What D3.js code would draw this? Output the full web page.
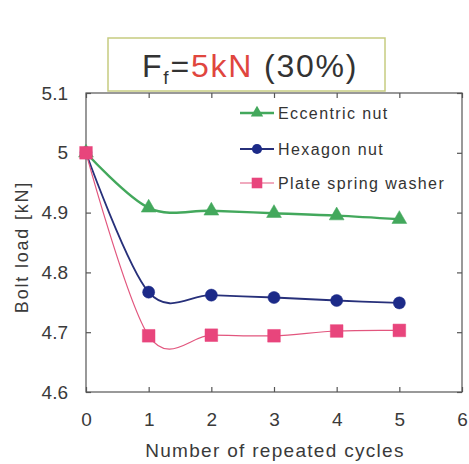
<!DOCTYPE html>
<html>
<head>
<meta charset="utf-8">
<script src="https://cdn.jsdelivr.net/npm/d3@7"></script>
<style>
  body { margin: 0; background: #fff; }
  svg { display: block; font-family: "Liberation Sans", Arial, sans-serif; }
</style>
</head>
<body>
<div id="chart"></div>
<script>
const cycles = [0, 1, 2, 3, 4, 5];
const eccentricNut = [5.0, 4.908, 4.903, 4.899, 4.895, 4.889];
const hexagonNut = [5.0, 4.767, 4.762, 4.758, 4.753, 4.749];
const plateSpringWasher = [5.0, 4.694, 4.695, 4.694, 4.702, 4.703];
const seriesNames = ["Eccentric nut", "Hexagon nut", "Plate spring washer"];
const xTicks = [0, 1, 2, 3, 4, 5, 6];
const yTicks = [4.6, 4.7, 4.8, 4.9, 5.0, 5.1];

const width = 469, height = 464;
const margin = { top: 93, right: 7, bottom: 72, left: 86 };

const svg = d3.select("#chart").append("svg")
  .attr("width", width)
  .attr("height", height);

const x = d3.scaleLinear().domain([0, 6]).range([margin.left, width - margin.right]);
const y = d3.scaleLinear().domain([4.6, 5.1]).range([height - margin.bottom, margin.top]);

// title box
const title = svg.append("g");
title.append("rect")
  .attr("x", 108).attr("y", 38)
  .attr("width", 277).attr("height", 53)
  .attr("fill", "#fff")
  .attr("stroke", "#c6cc80")
  .attr("stroke-width", 1.5);
const tt = title.append("text")
  .attr("x", 142).attr("y", 77)
  .style("font-size", "32px")
  .style("letter-spacing", "1.8px")
  .attr("fill", "#333");
tt.append("tspan").text("F");
tt.append("tspan").attr("dy", 7).style("font-size", "19px").text("f");
tt.append("tspan").attr("dy", -7).text("=");
tt.append("tspan").attr("fill", "#e0463e").text("5kN");
tt.append("tspan").text(" (30%)");

// frame
svg.append("rect")
  .attr("x", x(0)).attr("y", y(5.1))
  .attr("width", x(6) - x(0)).attr("height", y(4.6) - y(5.1))
  .attr("fill", "none")
  .attr("stroke", "#555")
  .attr("stroke-width", 1.2);

function styleAxis(g) {
  g.select(".domain").remove();
  g.selectAll(".tick line").attr("stroke", "#555").attr("stroke-width", 1.2);
  g.selectAll(".tick text")
    .attr("fill", "#3a3a3a")
    .style("font-size", "19px")
    .style("font-family", "'Liberation Sans', Arial, sans-serif");
}

svg.append("g")
  .attr("transform", `translate(0,${y(4.6)})`)
  .call(d3.axisBottom(x).tickValues(xTicks).tickFormat(d3.format("d"))
    .tickSizeInner(-5).tickSizeOuter(0).tickPadding(21))
  .call(styleAxis);

svg.append("g")
  .attr("transform", `translate(0,${y(5.1)})`)
  .call(d3.axisTop(x).tickValues(xTicks).tickFormat("")
    .tickSizeInner(-5).tickSizeOuter(0))
  .call(styleAxis);

svg.append("g")
  .attr("transform", `translate(${x(0)},0)`)
  .call(d3.axisLeft(y).tickValues(yTicks).tickFormat(d => d === 5 ? "5" : d3.format(".1f")(d))
    .tickSizeInner(-5).tickSizeOuter(0).tickPadding(18))
  .call(styleAxis);

svg.append("g")
  .attr("transform", `translate(${x(6)},0)`)
  .call(d3.axisRight(y).tickValues(yTicks).tickFormat("")
    .tickSizeInner(-5).tickSizeOuter(0))
  .call(styleAxis);

// axis labels
svg.append("text")
  .attr("x", 275).attr("y", 457)
  .attr("text-anchor", "middle")
  .attr("fill", "#3a3a3a")
  .style("font-size", "19px")
  .style("letter-spacing", "1.3px")
  .text("Number of repeated cycles");

svg.append("text")
  .attr("transform", "translate(28,247) rotate(-90)")
  .attr("text-anchor", "middle")
  .attr("fill", "#3a3a3a")
  .style("font-size", "18px")
  .style("letter-spacing", "1.8px")
  .text("Bolt load [kN]");

// series
const series = [
  { name: seriesNames[0], values: eccentricNut, color: "#43a85c", line: "#43a85c", width: 2.4, shape: d3.symbolTriangle, size: 95 },
  { name: seriesNames[1], values: hexagonNut, color: "#1c2a88", line: "#27307a", width: 1.8, shape: d3.symbolCircle, size: 115 },
  { name: seriesNames[2], values: plateSpringWasher, color: "#e8457c", line: "#e2567e", width: 1.2, shape: d3.symbolSquare, size: 160 }
];

const line = d3.line()
  .x((d, i) => x(cycles[i]))
  .y(d => y(d))
  .curve(d3.curveCardinal);

series.forEach(s => {
  svg.append("path")
    .datum(s.values)
    .attr("d", line)
    .attr("fill", "none")
    .attr("stroke", s.line)
    .attr("stroke-width", s.width);
});

series.forEach(s => {
  svg.selectAll(null)
    .data(s.values)
    .enter()
    .append("path")
    .attr("transform", (d, i) => `translate(${x(cycles[i])},${y(d)})`)
    .attr("d", d3.symbol().type(s.shape).size(s.size))
    .attr("fill", s.color)
    .attr("stroke", s.color)
    .attr("stroke-width", 0.5);
});

// legend
const legend = svg.append("g");
const legendY = [113, 149, 183];
series.forEach((s, i) => {
  const g = legend.append("g").attr("transform", `translate(240,${legendY[i]})`);
  g.append("line")
    .attr("x1", 0).attr("x2", 34)
    .attr("stroke", s.line)
    .attr("stroke-width", s.width);
  g.append("path")
    .attr("transform", "translate(17,0)")
    .attr("d", d3.symbol().type(s.shape).size(s.size * 0.7))
    .attr("fill", s.color);
  g.append("text")
    .attr("x", 38).attr("y", 0)
    .attr("dy", "0.35em")
    .attr("fill", "#333")
    .style("font-size", "16px")
    .style("letter-spacing", "1.4px")
    .text(s.name);
});
</script>
</body>
</html>
